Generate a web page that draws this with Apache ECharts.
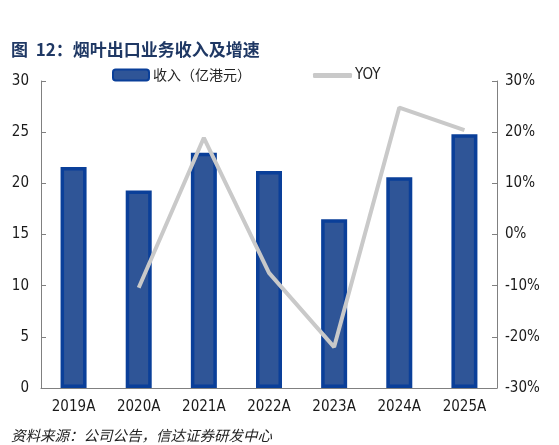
<!DOCTYPE html>
<html><head><meta charset="utf-8">
<script src="https://cdn.jsdelivr.net/npm/echarts@6/dist/echarts.min.js"></script>
<style>html,body{margin:0;padding:0;background:#fff}#c{width:559px;height:445px}</style>
</head><body><div id="c"></div>
<script>
const categories = ['2019A','2020A','2021A','2022A','2023A','2024A','2025A'];
const revenue = [21.6, 19.3, 23.0, 21.2, 16.5, 20.6, 24.8];
const yoy = [null, -10.4, 18.9, -7.5, -22.0, 24.8, 20.4];
const leftTicks = {min:0, max:30, interval:5};
const rightTicks = {min:-30, max:30, interval:10};

const chart = echarts.init(document.getElementById('c'));
const tickFont = {fontFamily:'DejaVu Sans Condensed, DejaVu Sans', fontSize:15, color:'#1a1a1a'};
chart.setOption({
  animation:false,
  title:[{
    text:'图  12：烟叶出口业务收入及增速', left:6, top:36,
    textStyle:{fontFamily:'Noto Sans CJK SC', fontSize:17, fontWeight:'bold', color:'#1F3864'}
  },{
    text:'资料来源：公司公告，信达证券研发中心', left:6, top:423,
    textStyle:{fontFamily:'Noto Sans CJK SC', fontSize:14.5, fontWeight:'normal', fontStyle:'italic', color:'#222'}
  }],
  legend:[{
    left:112, top:68, padding:0, itemWidth:36, itemHeight:11, itemGap:4,
    textStyle:{fontFamily:'Noto Sans CJK SC', fontSize:14, color:'#222', padding:[0,0,0,-1]},
    data:[{name:'收入（亿港元）', icon:'roundRect'}]
  },{
    left:313, top:68, padding:0, itemWidth:39, itemHeight:5,
    textStyle:{fontFamily:'DejaVu Sans Condensed, DejaVu Sans', fontSize:15, color:'#222', padding:[0,0,0,-2]},
    data:[{name:'YOY', icon:'roundRect'}]
  }],
  grid:{left:41, right:62, top:81, bottom:57},
  xAxis:{
    type:'category', data:categories,
    axisLine:{lineStyle:{color:'#808080', width:1}},
    axisTick:{inside:true, length:5, lineStyle:{color:'#808080'}},
    axisLabel:Object.assign({margin:12}, tickFont)
  },
  yAxis:[{
    type:'value', min:leftTicks.min, max:leftTicks.max, interval:leftTicks.interval,
    axisLine:{show:true, lineStyle:{color:'#808080'}},
    axisTick:{show:true, inside:true, length:5, lineStyle:{color:'#808080'}},
    splitLine:{show:false},
    axisLabel:Object.assign({margin:12}, tickFont)
  },{
    type:'value', min:rightTicks.min, max:rightTicks.max, interval:rightTicks.interval,
    axisLine:{show:true, lineStyle:{color:'#808080'}},
    axisTick:{show:true, inside:true, length:5, lineStyle:{color:'#808080'}},
    splitLine:{show:false},
    axisLabel:Object.assign({margin:8, formatter:'{value}%'}, tickFont)
  }],
  series:[{
    name:'收入（亿港元）', type:'bar', data:revenue, barWidth:26,
    itemStyle:{color:'#2F5597', borderColor:'#0A3F99', borderWidth:3.5}
  },{
    name:'YOY', type:'line', yAxisIndex:1, data:yoy, symbol:'none',
    lineStyle:{color:'#C9C9C9', width:4}, itemStyle:{color:'#C9C9C9'}
  }]
});
</script></body></html>
